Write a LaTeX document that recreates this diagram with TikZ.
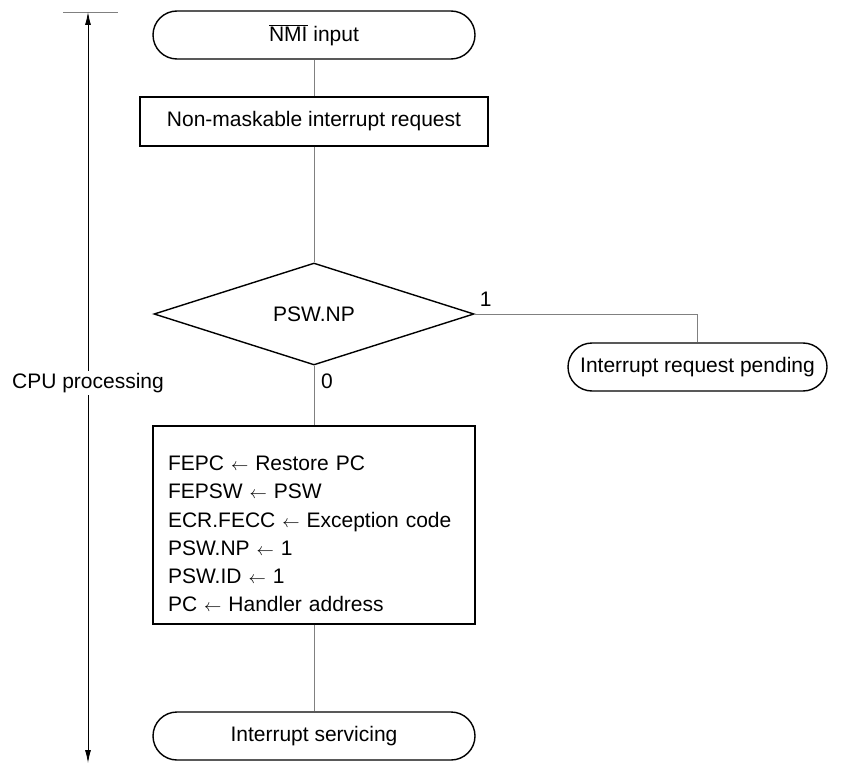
\documentclass[tikz,border=0pt]{standalone}
\usepackage{fontspec}
\setmainfont{Liberation Sans}
\usetikzlibrary{shapes.geometric,arrows.meta}
\newcommand\asgn{\ {\fontsize{16}{16}\selectfont$\leftarrow$}\ }
\tikzset{
  term/.style={draw,line width=1.4pt,rounded corners=24pt,minimum width=322pt,minimum height=48pt,inner sep=0pt},
  proc/.style={draw,line width=1.4pt,minimum width=348pt,minimum height=49pt,inner sep=0pt},
  cond/.style={draw,diamond,line width=1.4pt,minimum width=320pt,minimum height=102pt,inner sep=0pt},
  link/.style={draw=gray,line width=0.8pt}
}
\begin{document}
\begin{tikzpicture}[x=1pt,y=-1pt,font=\fontsize{21}{28.2}\selectfont]
\useasboundingbox (0,0) rectangle (846,765);
\node[term] (nmi) at (314,35) {$\overline{\mbox{NMI}}$ input};
\node[proc] (req) at (314,121.5) {Non-maskable interrupt request};
\node[cond] (np) at (314,314) {PSW.NP};
\node[term,minimum width=259pt] (pend) at (697.5,367) {Interrupt request pending};
\node[draw,line width=1.4pt,minimum width=322pt,minimum height=198pt] (save) at (314,525) {};
\node[text width=292pt,inner sep=0pt,align=left,yshift=-9pt] (savetext) at (save.center)
  {FEPC\asgn Restore PC\\
   FEPSW\asgn PSW\\
   ECR.FECC\asgn Exception code\\
   PSW.NP\asgn 1\\
   PSW.ID\asgn 1\\
   PC\asgn Handler address};
\node[term] (serv) at (314,736) {Interrupt servicing};

% connectors
\draw[link] (nmi.south) -- (req.north);
\draw[link] (req.south) -- (np.north);
\draw[link] (np.south) -- (save.north);
\draw[link] (save.south) -- (serv.north);
\draw[link] (np.east) -| (pend.north);
\node[anchor=south west,inner sep=1pt] (one) at ([shift={(4,-6)}]np.east) {1};
\node[anchor=north west,inner sep=1pt] (zero) at ([shift={(6,7)}]np.south) {0};

% processing span
\coordinate (tick) at (88,12);
\coordinate (foot) at (88,763);
\draw[link] (63,12) -- (118,12);
\draw[line width=0.8pt,{Latex[length=13pt,width=6pt]}-{Latex[length=13pt,width=6pt]}] (tick) -- (foot);
\node[fill=white,inner sep=2pt] (cpu) at (88,383) {CPU processing};
\end{tikzpicture}
\end{document}
